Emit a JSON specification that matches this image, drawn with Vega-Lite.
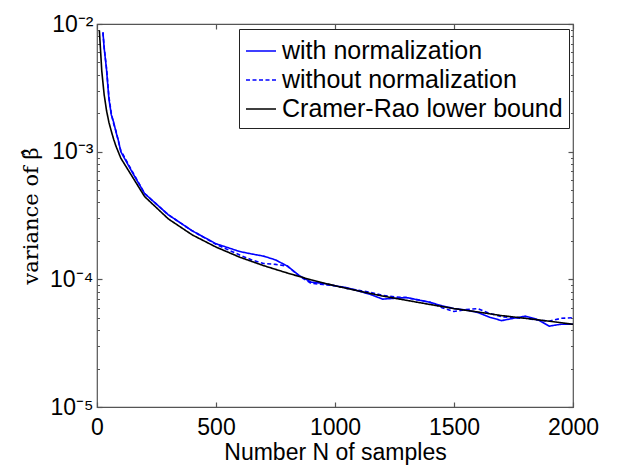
{
  "$schema": "https://vega.github.io/schema/vega-lite/v6.json",
  "width": 476,
  "height": 383,
  "autosize": {"type": "none"},
  "padding": {"left": 97, "top": 24, "right": 50, "bottom": 61},
  "background": "white",
  "config": {
    "view": {"stroke": "#555555", "strokeWidth": 1.2},
    "font": "Liberation Sans",
    "axis": {"grid": false, "domain": false, "tickColor": "#555555", "tickWidth": 1.2, "labelColor": "black", "titleColor": "black", "labelFont": "Liberation Sans", "titleFont": "Liberation Sans", "labelFontSize": 23, "titleFontSize": 23, "titleFontWeight": "normal"}
  },
  "data": {"values": [
    {"N": 25, "v": 0.0086, "s": "with normalization"},
    {"N": 30, "v": 0.0065, "s": "with normalization"},
    {"N": 40, "v": 0.0044, "s": "with normalization"},
    {"N": 50, "v": 0.0026, "s": "with normalization"},
    {"N": 60, "v": 0.00195, "s": "with normalization"},
    {"N": 70, "v": 0.0017, "s": "with normalization"},
    {"N": 80, "v": 0.00142, "s": "with normalization"},
    {"N": 90, "v": 0.00122, "s": "with normalization"},
    {"N": 100, "v": 0.001, "s": "with normalization"},
    {"N": 150, "v": 0.00068, "s": "with normalization"},
    {"N": 200, "v": 0.00047, "s": "with normalization"},
    {"N": 300, "v": 0.00032, "s": "with normalization"},
    {"N": 400, "v": 0.00024, "s": "with normalization"},
    {"N": 500, "v": 0.00019, "s": "with normalization"},
    {"N": 600, "v": 0.000165, "s": "with normalization"},
    {"N": 650, "v": 0.000158, "s": "with normalization"},
    {"N": 700, "v": 0.000152, "s": "with normalization"},
    {"N": 750, "v": 0.000142, "s": "with normalization"},
    {"N": 800, "v": 0.000127, "s": "with normalization"},
    {"N": 850, "v": 0.000107, "s": "with normalization"},
    {"N": 900, "v": 0.000095, "s": "with normalization"},
    {"N": 950, "v": 0.000093, "s": "with normalization"},
    {"N": 1000, "v": 0.000089, "s": "with normalization"},
    {"N": 1050, "v": 0.000086, "s": "with normalization"},
    {"N": 1100, "v": 0.000081, "s": "with normalization"},
    {"N": 1150, "v": 0.000076, "s": "with normalization"},
    {"N": 1200, "v": 0.00007, "s": "with normalization"},
    {"N": 1250, "v": 0.000071, "s": "with normalization"},
    {"N": 1300, "v": 0.000072, "s": "with normalization"},
    {"N": 1350, "v": 0.000069, "s": "with normalization"},
    {"N": 1400, "v": 0.000066, "s": "with normalization"},
    {"N": 1450, "v": 0.000062, "s": "with normalization"},
    {"N": 1500, "v": 0.000059, "s": "with normalization"},
    {"N": 1550, "v": 0.0000575, "s": "with normalization"},
    {"N": 1600, "v": 0.000055, "s": "with normalization"},
    {"N": 1650, "v": 0.0000505, "s": "with normalization"},
    {"N": 1700, "v": 0.0000475, "s": "with normalization"},
    {"N": 1750, "v": 0.0000495, "s": "with normalization"},
    {"N": 1800, "v": 0.0000515, "s": "with normalization"},
    {"N": 1850, "v": 0.0000485, "s": "with normalization"},
    {"N": 1900, "v": 0.000043, "s": "with normalization"},
    {"N": 1950, "v": 0.0000445, "s": "with normalization"},
    {"N": 2000, "v": 0.0000445, "s": "with normalization"},
    {"N": 25, "v": 0.0086, "s": "without normalization"},
    {"N": 30, "v": 0.0066, "s": "without normalization"},
    {"N": 40, "v": 0.0045, "s": "without normalization"},
    {"N": 50, "v": 0.0027, "s": "without normalization"},
    {"N": 60, "v": 0.002, "s": "without normalization"},
    {"N": 70, "v": 0.00165, "s": "without normalization"},
    {"N": 80, "v": 0.00145, "s": "without normalization"},
    {"N": 90, "v": 0.0012, "s": "without normalization"},
    {"N": 100, "v": 0.00102, "s": "without normalization"},
    {"N": 150, "v": 0.00069, "s": "without normalization"},
    {"N": 200, "v": 0.00047, "s": "without normalization"},
    {"N": 300, "v": 0.00032, "s": "without normalization"},
    {"N": 400, "v": 0.00024, "s": "without normalization"},
    {"N": 500, "v": 0.000188, "s": "without normalization"},
    {"N": 600, "v": 0.000155, "s": "without normalization"},
    {"N": 650, "v": 0.000142, "s": "without normalization"},
    {"N": 700, "v": 0.000133, "s": "without normalization"},
    {"N": 750, "v": 0.000131, "s": "without normalization"},
    {"N": 800, "v": 0.000127, "s": "without normalization"},
    {"N": 850, "v": 0.000106, "s": "without normalization"},
    {"N": 900, "v": 0.000093, "s": "without normalization"},
    {"N": 950, "v": 0.000091, "s": "without normalization"},
    {"N": 1000, "v": 0.000089, "s": "without normalization"},
    {"N": 1050, "v": 0.000085, "s": "without normalization"},
    {"N": 1100, "v": 0.000082, "s": "without normalization"},
    {"N": 1150, "v": 0.000079, "s": "without normalization"},
    {"N": 1200, "v": 0.000075, "s": "without normalization"},
    {"N": 1250, "v": 0.000073, "s": "without normalization"},
    {"N": 1300, "v": 0.000072, "s": "without normalization"},
    {"N": 1350, "v": 0.000069, "s": "without normalization"},
    {"N": 1400, "v": 0.000066, "s": "without normalization"},
    {"N": 1450, "v": 0.00006, "s": "without normalization"},
    {"N": 1500, "v": 0.000056, "s": "without normalization"},
    {"N": 1550, "v": 0.000058, "s": "without normalization"},
    {"N": 1600, "v": 0.000059, "s": "without normalization"},
    {"N": 1650, "v": 0.000054, "s": "without normalization"},
    {"N": 1700, "v": 0.000051, "s": "without normalization"},
    {"N": 1750, "v": 0.00005, "s": "without normalization"},
    {"N": 1800, "v": 0.0000495, "s": "without normalization"},
    {"N": 1850, "v": 0.000048, "s": "without normalization"},
    {"N": 1900, "v": 0.000047, "s": "without normalization"},
    {"N": 1950, "v": 0.0000495, "s": "without normalization"},
    {"N": 2000, "v": 0.00005, "s": "without normalization"},
    {"N": 10, "v": 0.0089, "s": "Cramer-Rao lower bound"},
    {"N": 20, "v": 0.0043, "s": "Cramer-Rao lower bound"},
    {"N": 30, "v": 0.0028, "s": "Cramer-Rao lower bound"},
    {"N": 40, "v": 0.0021, "s": "Cramer-Rao lower bound"},
    {"N": 50, "v": 0.0017, "s": "Cramer-Rao lower bound"},
    {"N": 60, "v": 0.00145, "s": "Cramer-Rao lower bound"},
    {"N": 70, "v": 0.00125, "s": "Cramer-Rao lower bound"},
    {"N": 80, "v": 0.0011, "s": "Cramer-Rao lower bound"},
    {"N": 90, "v": 0.00099, "s": "Cramer-Rao lower bound"},
    {"N": 100, "v": 0.00089, "s": "Cramer-Rao lower bound"},
    {"N": 200, "v": 0.000445, "s": "Cramer-Rao lower bound"},
    {"N": 300, "v": 0.000297, "s": "Cramer-Rao lower bound"},
    {"N": 400, "v": 0.000223, "s": "Cramer-Rao lower bound"},
    {"N": 500, "v": 0.000179, "s": "Cramer-Rao lower bound"},
    {"N": 600, "v": 0.000149, "s": "Cramer-Rao lower bound"},
    {"N": 700, "v": 0.000128, "s": "Cramer-Rao lower bound"},
    {"N": 800, "v": 0.000112, "s": "Cramer-Rao lower bound"},
    {"N": 900, "v": 0.000099, "s": "Cramer-Rao lower bound"},
    {"N": 1000, "v": 0.000089, "s": "Cramer-Rao lower bound"},
    {"N": 1100, "v": 0.000081, "s": "Cramer-Rao lower bound"},
    {"N": 1200, "v": 0.000074, "s": "Cramer-Rao lower bound"},
    {"N": 1300, "v": 0.0000685, "s": "Cramer-Rao lower bound"},
    {"N": 1400, "v": 0.0000635, "s": "Cramer-Rao lower bound"},
    {"N": 1500, "v": 0.000059, "s": "Cramer-Rao lower bound"},
    {"N": 1600, "v": 0.0000555, "s": "Cramer-Rao lower bound"},
    {"N": 1700, "v": 0.000052, "s": "Cramer-Rao lower bound"},
    {"N": 1800, "v": 0.0000495, "s": "Cramer-Rao lower bound"},
    {"N": 1900, "v": 0.000047, "s": "Cramer-Rao lower bound"},
    {"N": 2000, "v": 0.0000445, "s": "Cramer-Rao lower bound"}
  ]},
  "layer": [
    {
      "mark": {"type": "line", "strokeWidth": 1.6},
      "encoding": {
        "x": {"field": "N", "type": "quantitative", "scale": {"domain": [0, 2000], "nice": false, "zero": false},
          "axis": {"title": "Number N of samples", "format": "d", "values": [0, 500, 1000, 1500, 2000], "offset": -5, "tickSize": 5, "labelPadding": 9, "titlePadding": 2, "labelFlush": false}},
        "y": {"field": "v", "type": "quantitative", "scale": {"type": "log", "domain": [0.00001, 0.01], "nice": false},
          "axis": {"title": "variance of β̂", "titleFont": "DejaVu Serif", "titleFontSize": 21, "titlePadding": 8,
            "values": [0.00001, 0.00002, 0.00003, 0.00004, 0.00005, 0.00006, 0.00007, 0.00008, 0.00009, 0.0001, 0.0002, 0.0003, 0.0004, 0.0005, 0.0006, 0.0007, 0.0008, 0.0009, 0.001, 0.002, 0.003, 0.004, 0.005, 0.006, 0.007, 0.008, 0.009, 0.01],
            "labelExpr": "datum.value == 0.01 ? '10⁻²' : datum.value == 0.001 ? '10⁻³' : datum.value == 0.0001 ? '10⁻⁴' : datum.value == 0.00001 ? '10⁻⁵' : ''",
            "offset": -5, "tickSize": 5,
            "tickDash": {"condition": {"test": "datum.value == 0.01 || datum.value == 0.001 || datum.value == 0.0001 || datum.value == 0.00001", "value": [5, 0]}, "value": [0, 2.5, 2.5, 0]},
            "labelPadding": 4, "labelFlush": false}},
        "color": {"field": "s", "type": "nominal", "sort": ["with normalization", "without normalization", "Cramer-Rao lower bound"],
          "scale": {"domain": ["with normalization", "without normalization", "Cramer-Rao lower bound"], "range": ["#0000ff", "#0000ff", "#000000"]},
          "legend": {"title": null, "orient": "none", "legendX": 142, "legendY": 5, "direction": "vertical", "strokeColor": "#222222", "fillColor": "white", "padding": 6, "symbolType": "stroke", "symbolSize": 900, "symbolStrokeWidth": 1.6, "labelFontSize": 25, "labelFont": "Liberation Sans", "labelColor": "black", "labelOffset": 5, "rowPadding": 0, "labelLimit": 400}},
        "strokeDash": {"field": "s", "type": "nominal", "sort": ["with normalization", "without normalization", "Cramer-Rao lower bound"],
          "scale": {"domain": ["with normalization", "without normalization", "Cramer-Rao lower bound"], "range": [[1, 0], [4, 2.5], [1, 0]]},
          "legend": {"title": null, "orient": "none", "legendX": 142, "legendY": 5, "direction": "vertical", "strokeColor": "#222222", "fillColor": "white", "padding": 6, "symbolType": "stroke", "symbolSize": 900, "symbolStrokeWidth": 1.6, "labelFontSize": 25, "labelFont": "Liberation Sans", "labelColor": "black", "labelOffset": 5, "rowPadding": 0, "labelLimit": 400}}
      }
    },
    {
      "mark": {"type": "line", "opacity": 0},
      "encoding": {
        "x": {"field": "N", "type": "quantitative", "axis": {"orient": "top", "title": null, "labels": false, "values": [0, 500, 1000, 1500, 2000], "offset": -5, "tickSize": 5}},
        "y": {"field": "v", "type": "quantitative", "scale": {"type": "log"},
          "axis": {"orient": "right", "title": null, "labels": false,
            "values": [0.00001, 0.00002, 0.00003, 0.00004, 0.00005, 0.00006, 0.00007, 0.00008, 0.00009, 0.0001, 0.0002, 0.0003, 0.0004, 0.0005, 0.0006, 0.0007, 0.0008, 0.0009, 0.001, 0.002, 0.003, 0.004, 0.005, 0.006, 0.007, 0.008, 0.009, 0.01],
            "offset": -5, "tickSize": 5,
            "tickDash": {"condition": {"test": "datum.value == 0.01 || datum.value == 0.001 || datum.value == 0.0001 || datum.value == 0.00001", "value": [5, 0]}, "value": [0, 2.5, 2.5, 0]}}},
        "detail": {"field": "s", "type": "nominal"}
      }
    }
  ],
  "resolve": {"axis": {"x": "independent", "y": "independent"}}
}
